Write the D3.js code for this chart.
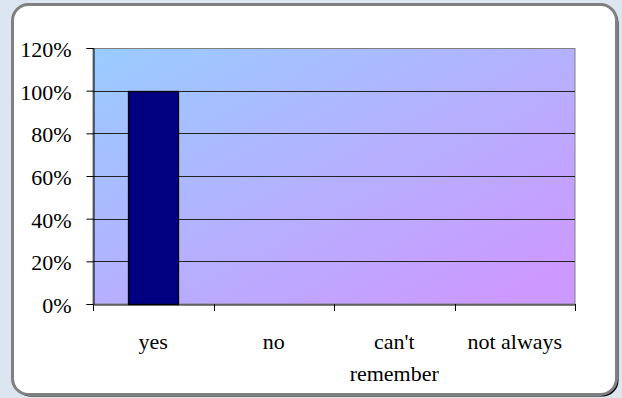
<!DOCTYPE html>
<html>
<head>
<meta charset="utf-8">
<script src="https://cdn.jsdelivr.net/npm/d3@7"></script>
<style>
  html, body { margin: 0; padding: 0; background: #dce6f1; }
  svg { display: block; }
</style>
</head>
<body>
<svg id="chart" width="622" height="398"></svg>
<script>
const categories = [["yes"], ["no"], ["can't", "remember"], ["not always"]];
const values = [1.0, 0, 0, 0];
const yTicks = [0, 0.2, 0.4, 0.6, 0.8, 1.0, 1.2];

const svg = d3.select("#chart");
const FONT = "'Liberation Serif', 'Times New Roman', serif";
const FS = 22;

// frame: shadow then border
svg.append("rect")
  .attr("x", 14.5).attr("y", 6.5)
  .attr("width", 604).attr("height", 390)
  .attr("rx", 16).attr("ry", 16)
  .attr("fill", "#000");
svg.append("rect")
  .attr("x", 12.5).attr("y", 4.5)
  .attr("width", 604).attr("height", 390)
  .attr("rx", 16).attr("ry", 16)
  .attr("fill", "#fff").attr("stroke", "#808080").attr("stroke-width", 3);

const plot = { left: 93, right: 575, top: 48, bottom: 304 };

const defs = svg.append("defs");
const grad = defs.append("linearGradient")
  .attr("id", "bg")
  .attr("x1", 0).attr("y1", 0).attr("x2", 1).attr("y2", 1);
grad.append("stop").attr("offset", "0%").attr("stop-color", "#99ccff");
grad.append("stop").attr("offset", "92%").attr("stop-color", "#cc99ff");

const xb = d3.scaleBand()
  .domain(categories.map(c => c.join(" ")))
  .range([plot.left, plot.right]);
const y = d3.scaleLinear().domain([0, 1.2]).range([plot.bottom, plot.top]);

svg.append("rect")
  .attr("x", plot.left).attr("y", plot.top + 0.5)
  .attr("width", plot.right - plot.left).attr("height", plot.bottom - plot.top - 0.5)
  .attr("fill", "url(#bg)").attr("stroke", "#808080").attr("stroke-width", 1);

// gridlines
svg.append("g").selectAll("line")
  .data(yTicks.filter(t => t > 0 && t < 1.2))
  .join("line")
  .attr("x1", plot.left).attr("x2", plot.right)
  .attr("y1", d => Math.round(y(d)) + 0.5).attr("y2", d => Math.round(y(d)) + 0.5)
  .attr("stroke", "#222").attr("stroke-width", 1);

// bars
const bw = xb.bandwidth() / 2.4;
svg.append("g").selectAll("rect")
  .data(values.map((v, i) => ({ v, k: categories[i].join(" ") })).filter(d => d.v > 0))
  .join("rect")
  .attr("x", d => Math.round(xb(d.k) + (xb.bandwidth() - bw) / 2) + 0.5)
  .attr("y", d => Math.round(y(d.v)) + 0.5)
  .attr("width", Math.round(bw))
  .attr("height", d => Math.round(y(0)) - Math.round(y(d.v)))
  .attr("fill", "#000080").attr("stroke", "#000").attr("stroke-width", 1.3);

// y axis
const yAxis = d3.axisLeft(y).tickValues(yTicks).tickFormat(d3.format(".0%"))
  .tickSize(7).tickPadding(15);
const gy = svg.append("g").attr("transform", `translate(${plot.left + 0.5},0)`).call(yAxis);
gy.attr("font-family", null).attr("font-size", null);
gy.select(".domain").attr("stroke", "#000");
gy.selectAll(".tick line").attr("stroke", "#000");
gy.selectAll(".tick text")
  .attr("font-family", FONT)
  .attr("font-size", FS).attr("fill", "#000").attr("dy", "0.38em");

// x axis
const xAxis = d3.axisBottom(xb).tickSize(0).tickFormat("");
const gx = svg.append("g").attr("transform", `translate(0,${plot.bottom + 0.5})`).call(xAxis);
gx.select(".domain").attr("stroke", "#000");
// category boundary ticks
svg.append("g").selectAll("line")
  .data(d3.range(categories.length + 1))
  .join("line")
  .attr("x1", i => Math.round(plot.left + i * xb.step()) + 0.5)
  .attr("x2", i => Math.round(plot.left + i * xb.step()) + 0.5)
  .attr("y1", plot.bottom).attr("y2", plot.bottom + 7)
  .attr("stroke", "#000");

// category labels
const lbl = svg.append("g")
  .attr("font-family", FONT)
  .attr("font-size", FS).attr("fill", "#000").attr("text-anchor", "middle");
categories.forEach(c => {
  const cx = xb(c.join(" ")) + xb.bandwidth() / 2;
  const t = lbl.append("text").attr("x", cx).attr("y", 349);
  c.forEach((line, j) => {
    t.append("tspan").attr("x", cx).attr("y", 349 + j * 32).text(line);
  });
});
</script>
</body>
</html>
